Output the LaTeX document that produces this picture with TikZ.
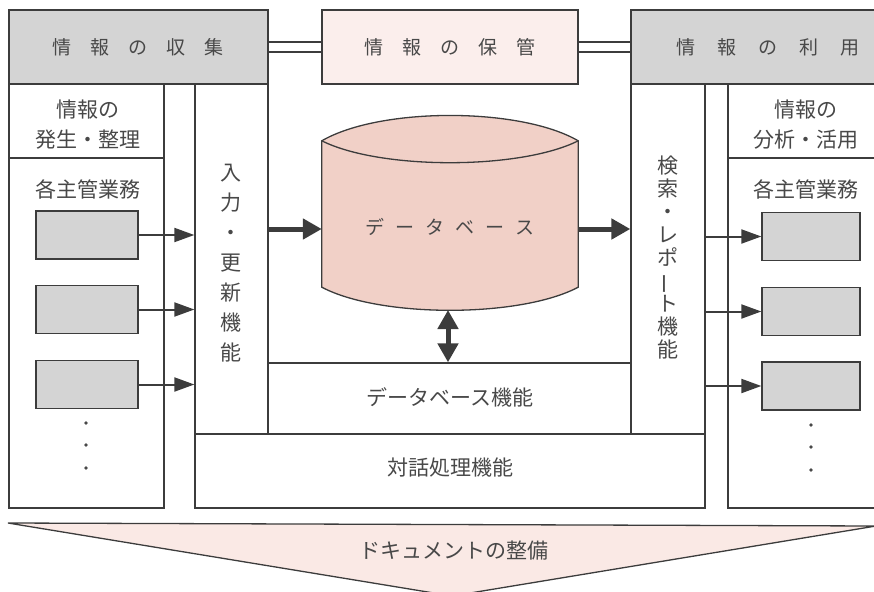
\documentclass[tikz,border=0pt]{standalone}
\usepackage{fontspec}
\usepackage{graphicx}
\newfontfamily\jp{Noto Sans CJK JP}
\usetikzlibrary{arrows.meta,calc}
\definecolor{ln}{RGB}{60,60,60}
\definecolor{tx}{RGB}{72,72,72}
\definecolor{gbox}{RGB}{212,212,212}
\definecolor{pbox}{RGB}{251,238,236}
\definecolor{cyl}{RGB}{241,208,199}
\definecolor{tri}{RGB}{250,233,229}
\newcommand{\gp}{\hspace{19pt}}
\newcommand{\vbar}{\rotatebox[origin=c]{90}{ー}}
\tikzset{
 frame/.style={draw=ln, line width=1.3pt, inner sep=0pt},
 hdr/.style={text=tx, inner sep=0pt, font=\jp\fontsize{19}{22}\selectfont},
 lbl/.style={text=tx, inner sep=0pt, align=center, font=\jp\fontsize{21}{30}\selectfont},
 subbox/.style={draw=ln, line width=1.3pt, fill=gbox, inner sep=0pt, minimum height=48pt},
 sarr/.style={draw=ln, line width=2pt, -{Triangle[length=20pt,width=14pt]}},
 barr/.style={draw=ln, line width=5pt, -{Triangle[length=19pt,width=20pt]}},
}
\begin{document}
\begin{tikzpicture}[x=1pt,y=-1pt]
\useasboundingbox (0,0) rectangle (874,591);
% top boxes
\node[frame, fill=gbox, minimum width=259pt, minimum height=74pt] (collect) at (138.5,47) {};
\node[frame, fill=pbox, minimum width=256pt, minimum height=74pt] (store) at (450,47) {};
\node[frame, fill=gbox, minimum width=245pt, minimum height=74pt] (use) at (753.5,47) {};
\node[hdr] (tcollect) at (138,47) {情\gp 報\gp の\gp 収\gp 集};
\node[hdr] (tstore) at (450,47) {情\gp 報\gp の\gp 保\gp 管};
\node[hdr] (tuse) at (768,47) {情\hspace{22pt}報\hspace{22pt}の\hspace{22pt}利\hspace{22pt}用};
% double connectors
\draw[ln, line width=1.3pt] ([yshift=5pt]collect.east) -- ([yshift=5pt]store.west);
\draw[ln, line width=1.3pt] ([yshift=-5pt]collect.east) -- ([yshift=-5pt]store.west);
\draw[ln, line width=1.3pt] ([yshift=5pt]store.east) -- ([yshift=5pt]use.west);
\draw[ln, line width=1.3pt] ([yshift=-5pt]store.east) -- ([yshift=-5pt]use.west);
% columns
\node[frame, minimum width=155pt, minimum height=424pt] (leftcol) at (86.5,296) {};
\node[frame, minimum width=73pt, minimum height=350pt] (inupd) at (231.5,259) {};
\node[frame, minimum width=74pt, minimum height=350pt] (search) at (668,259) {};
\node[frame, minimum width=148pt, minimum height=424pt] (rightcol) at (802,296) {};
\node[frame, minimum width=363pt, minimum height=71pt] (dbfunc) at (449.5,398.5) {};
\node[frame, minimum width=510pt, minimum height=74pt] (dialog) at (450,471) {};
\draw[ln, line width=1.3pt] (leftcol.west |- 0,158) -- (leftcol.east |- 0,158);
\draw[ln, line width=1.3pt] (rightcol.west |- 0,158) -- (rightcol.east |- 0,158);
% column labels
\node[lbl] (lgen) at (88,125) {情報の\\発生・整理};
\node[lbl] (lbiz) at (88,189) {各主管業務};
\node[lbl] (rgen) at (806,125) {情報の\\分析・活用};
\node[lbl] (rbiz) at (806,189) {各主管業務};
\node[lbl, font=\jp\fontsize{21}{30}\selectfont] (tin) at (231,263) {入\\力\\・\\更\\新\\機\\能};
\node[lbl, font=\jp\fontsize{21}{23}\selectfont] (tsearch) at (668,258) {検\\索\\・\\レ\\ポ\\\vbar\\ト\\機\\能};
\node[lbl] (tdbf) at (450,397) {データベース機能};
\node[lbl] (tdia) at (450,468) {対話処理機能};
% sub boxes
\node[subbox, minimum width=102pt] (g1) at (87,235) {};
\node[subbox, minimum width=102pt] (g2) at (87,309.5) {};
\node[subbox, minimum width=102pt] (g3) at (87,384.5) {};
\node[subbox, minimum width=98pt] (h1) at (811,236.5) {};
\node[subbox, minimum width=98pt] (h2) at (811,311.5) {};
\node[subbox, minimum width=98pt] (h3) at (811,386) {};
\foreach \y in {423,445,468} \fill[tx] (86,\y) circle (1.8pt);
\foreach \y in {425,447,470} \fill[tx] (811,\y) circle (1.8pt);
\draw[sarr] (g1.east) -- (inupd.west |- g1.east);
\draw[sarr] (g2.east) -- (inupd.west |- g2.east);
\draw[sarr] (g3.east) -- (inupd.west |- g3.east);
\draw[sarr] (search.east |- h1.west) -- (h1.west);
\draw[sarr] (search.east |- h2.west) -- (h2.west);
\draw[sarr] (search.east |- h3.west) -- (h3.west);
% database cylinder
\node[inner sep=0pt, minimum width=256pt, minimum height=146pt] (db) at (450,214) {};
\path[fill=cyl, draw=ln, line width=1.3pt] (db.north west) .. controls (380,107) and (520,107) .. (db.north east) -- (db.south east) .. controls (520,318) and (380,318) .. (db.south west) -- cycle;
\draw[ln, line width=1.3pt] (db.north west) .. controls (380,170) and (520,170) .. (db.north east);
\coordinate (dbbot) at (448,310);
\node[lbl, font=\jp\fontsize{19}{22}\selectfont] (tdb) at (450,227) {デ\hspace{11pt}ー\hspace{11pt}タ\hspace{11pt}ベ\hspace{11pt}ー\hspace{11pt}ス};
\draw[barr] (inupd.east |- 0,229) -- (db.west |- 0,229);
\draw[barr] (db.east |- 0,229) -- (search.west |- 0,229);
\draw[barr, {Triangle[length=19pt,width=20pt]}-{Triangle[length=19pt,width=20pt]}] (dbbot) -- (dbfunc.north -| dbbot);
% bottom triangle
\path[fill=tri, draw=ln, line width=1.3pt] (8,523) -- (876,526) -- (452,596) -- cycle;
\node[lbl] (tdoc) at (454,551) {ドキュメントの整備};
\end{tikzpicture}
\end{document}
